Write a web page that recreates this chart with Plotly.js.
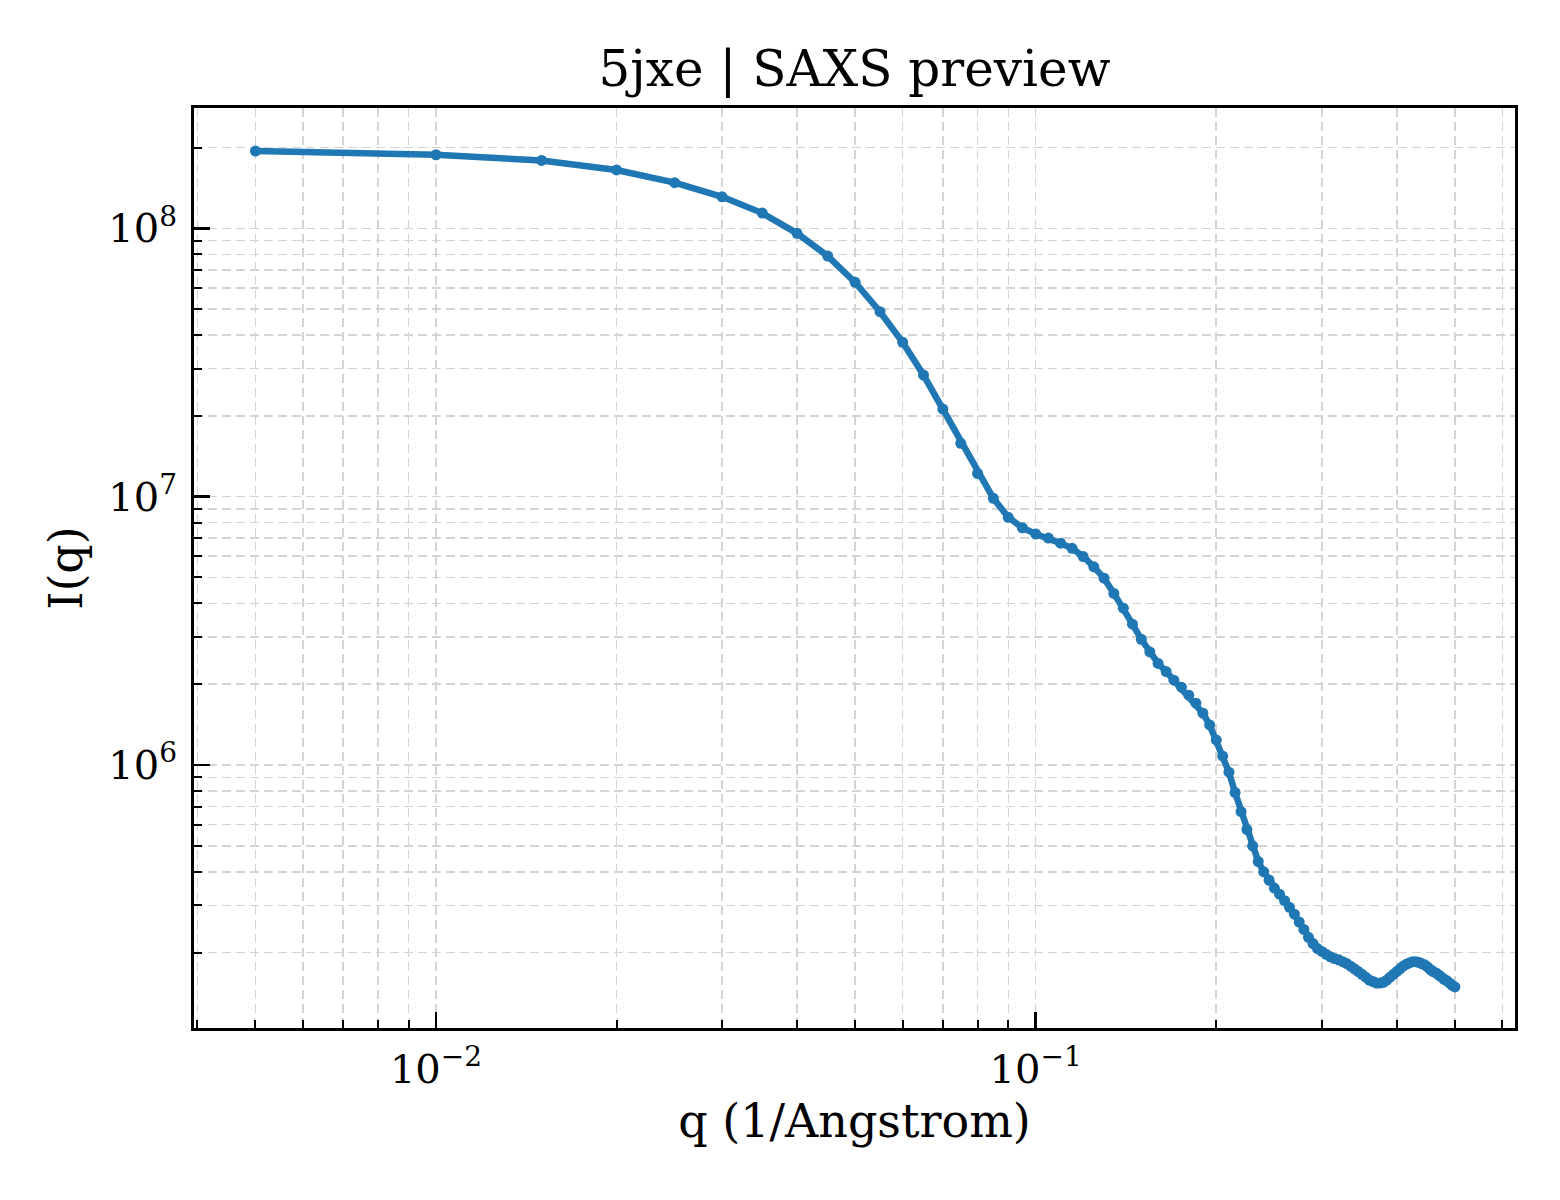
<!DOCTYPE html>
<html>
<head>
<meta charset="utf-8">
<script src="https://cdn.plot.ly/plotly-3.0.1.min.js"></script>
<style>
  html, body { margin: 0; padding: 0; background: #fff; }
  #chart { width: 1560px; height: 1200px; }
</style>
</head>
<body>
<div id="chart"></div>
<script>
// q values in 1/Angstrom, 0.005 steps
const qValues = [
  0.005, 0.01, 0.015, 0.02, 0.025, 0.03, 0.035, 0.04, 0.045, 0.05,
  0.055, 0.06, 0.065, 0.07, 0.075, 0.08, 0.085, 0.09, 0.095, 0.1,
  0.105, 0.11, 0.115, 0.12, 0.125, 0.13, 0.135, 0.14, 0.145, 0.15,
  0.155, 0.16, 0.165, 0.17, 0.175, 0.18, 0.185, 0.19, 0.195, 0.2,
  0.205, 0.21, 0.215, 0.22, 0.225, 0.23, 0.235, 0.24, 0.245, 0.25,
  0.255, 0.26, 0.265, 0.27, 0.275, 0.28, 0.285, 0.29, 0.295, 0.3,
  0.305, 0.31, 0.315, 0.32, 0.325, 0.33, 0.335, 0.34, 0.345, 0.35,
  0.355, 0.36, 0.365, 0.37, 0.375, 0.38, 0.385, 0.39, 0.395, 0.4,
  0.405, 0.41, 0.415, 0.42, 0.425, 0.43, 0.435, 0.44, 0.445, 0.45,
  0.455, 0.46, 0.465, 0.47, 0.475, 0.48, 0.485, 0.49, 0.495, 0.5
];

// intensity
const intensity = [
  1.94e8, 1.88e8, 1.79e8, 1.65e8, 1.48e8, 1.31e8, 1.14e8, 9.58e7, 7.88e7, 6.29e7,
  4.89e7, 3.76e7, 2.84e7, 2.12e7, 1.58e7, 1.22e7, 9.86e6, 8.38e6, 7.66e6, 7.26e6,
  7.01e6, 6.71e6, 6.42e6, 5.98e6, 5.48e6, 4.97e6, 4.36e6, 3.84e6, 3.35e6, 2.94e6,
  2.64e6, 2.39e6, 2.23e6, 2.07e6, 1.95e6, 1.82e6, 1.70e6, 1.56e6, 1.41e6, 1.24e6,
  1.08e6, 9.4e5, 7.9e5, 6.7e5, 5.75e5, 5.0e5, 4.37e5, 4.0e5, 3.72e5, 3.48e5,
  3.30e5, 3.12e5, 2.95e5, 2.78e5, 2.60e5, 2.44e5, 2.28e5, 2.16e5, 2.07e5, 2.02e5,
  1.97e5, 1.93e5, 1.90e5, 1.88e5, 1.85e5, 1.82e5, 1.78e5, 1.74e5, 1.70e5, 1.66e5,
  1.62e5, 1.58e5, 1.56e5, 1.54e5, 1.54e5, 1.55e5, 1.58e5, 1.62e5, 1.66e5, 1.70e5,
  1.74e5, 1.78e5, 1.81e5, 1.83e5, 1.85e5, 1.85e5, 1.84e5, 1.82e5, 1.80e5, 1.77e5,
  1.73e5, 1.70e5, 1.68e5, 1.65e5, 1.62e5, 1.59e5, 1.57e5, 1.54e5, 1.51e5, 1.49e5
];

const xTickVals = [0.01, 0.1];
const xTickText = ["10<sup>−2</sup>", "10<sup>−1</sup>"];
const yTickVals = [1e6, 1e7, 1e8];
const yTickText = ["10<sup>6</sup>", "10<sup>7</sup>", "10<sup>8</sup>"];

// minor ticks 2..9 in each decade
function minorTicks(fromExp, toExp) {
  const out = [];
  for (let e = fromExp; e <= toExp; e++) {
    for (let m = 2; m <= 9; m++) out.push(m * Math.pow(10, e));
  }
  return out;
}

const FONT = "DejaVu Serif, Liberation Serif, serif";
const GRID = "#d4d4d4";

const minorStyle = {
  tickmode: "array",
  ticks: "inside",
  ticklen: 8,
  tickwidth: 2,
  tickcolor: "#000",
  showgrid: true,
  gridcolor: GRID,
  gridwidth: 1.5,
  griddash: "9px,5px",
};

const axisCommon = {
  type: "log",
  showline: true,
  linecolor: "#000",
  linewidth: 3,
  mirror: true,
  ticks: "inside",
  ticklen: 16,
  tickwidth: 2.5,
  tickcolor: "#000",
  tickmode: "array",
  tickfont: { family: FONT, size: 40, color: "#000" },
  showgrid: true,
  gridcolor: GRID,
  gridwidth: 1.5,
  griddash: "9px,5px",
  zeroline: false,
};

Plotly.newPlot(
  "chart",
  [
    {
      x: qValues,
      y: intensity,
      type: "scatter",
      mode: "lines+markers",
      line: { color: "#1f77b4", width: 6.5 },
      marker: { color: "#1f77b4", size: 11 },
      showlegend: false,
    },
  ],
  {
    width: 1560,
    height: 1200,
    paper_bgcolor: "#fff",
    plot_bgcolor: "#fff",
    margin: { l: 194, r: 45, t: 108, b: 172 },
    title: {
      text: "5jxe | SAXS preview",
      font: { family: FONT, size: 50, color: "#000" },
      x: 0.5,
      xref: "paper",
      y: 1,
      yref: "paper",
      yanchor: "bottom",
      pad: { b: 22 },
    },
    xaxis: {
      ...axisCommon,
      range: [-2.4035, -0.2008],
      tickvals: xTickVals,
      ticktext: xTickText,
      ticklabelstandoff: 4,
      minor: { ...minorStyle, tickvals: minorTicks(-3, -1) },
      title: {
        text: "q (1/Angstrom)",
        font: { family: FONT, size: 46, color: "#000" },
        standoff: 14,
      },
    },
    yaxis: {
      ...axisCommon,
      range: [5.02, 8.4484],
      tickvals: yTickVals,
      ticktext: yTickText,
      ticklabelstandoff: 6,
      minor: { ...minorStyle, tickvals: minorTicks(5, 8) },
      title: {
        text: "I(q)",
        font: { family: FONT, size: 46, color: "#000" },
        standoff: 12,
      },
    },
  },
  { displayModeBar: false, staticPlot: true }
);
</script>
</body>
</html>
